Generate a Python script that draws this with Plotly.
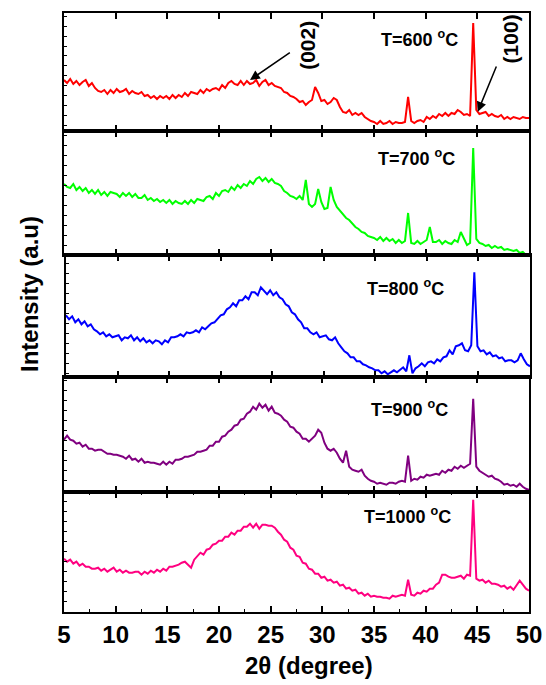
import plotly.graph_objects as go
from plotly.subplots import make_subplots

# 2-theta grid (degrees), 0.3 degree steps from 5 to 50
TWO_THETA = [round(5 + 0.3 * i, 1) for i in range(151)]

# Intensities (a.u.)
I_600 = [46, 43, 47, 42, 45, 41, 44, 46, 40, 43,
         38, 35, 34, 36, 32, 36, 33, 37, 34, 35,
         37, 32, 35, 33, 32, 34, 30, 31, 28, 30,
         27, 30, 28, 30, 27, 31, 28, 31, 29, 33,
         30, 34, 33, 32, 36, 33, 37, 35, 37, 38,
         36, 41, 38, 43, 45, 42, 41, 45, 41, 45,
         42, 43, 46, 40, 44, 46, 41, 43, 40, 39,
         38, 34, 33, 30, 29, 27, 24, 25, 21, 24,
         26, 39, 33, 25, 26, 22, 24, 28, 26, 19,
         14, 13, 16, 11, 13, 11, 13, 9, 7, 5,
         4, 2, 5, 2, 3, 5, 2, 4, 3, 3,
         4, 29, 5, 3, 5, 6, 4, 9, 7, 10,
         8, 12, 10, 13, 10, 13, 12, 16, 14, 11,
         12, 10, 103, 16, 12, 13, 14, 10, 12, 10,
         9, 11, 7, 9, 7, 9, 8, 7, 9, 8, 8]

I_700 = [72, 69, 68, 72, 66, 69, 65, 68, 63, 66,
         62, 66, 61, 64, 60, 64, 63, 62, 59, 63,
         60, 63, 59, 62, 58, 58, 61, 56, 58, 55,
         57, 54, 56, 53, 56, 52, 55, 53, 52, 55,
         52, 56, 53, 57, 56, 55, 59, 60, 57, 63,
         60, 65, 66, 64, 69, 66, 71, 68, 72, 70,
         75, 72, 77, 79, 75, 78, 74, 77, 73, 72,
         70, 65, 63, 60, 59, 57, 60, 56, 76, 52,
         49, 52, 67, 54, 47, 48, 69, 56, 49, 45,
         42, 38, 36, 32, 29, 27, 24, 23, 20, 19,
         18, 16, 19, 15, 18, 15, 17, 13, 16, 13,
         15, 43, 13, 12, 15, 12, 14, 16, 29, 14,
         14, 16, 12, 15, 13, 12, 16, 14, 24, 18,
         11, 13, 108, 17, 13, 12, 10, 11, 8, 10,
         8, 9, 6, 7, 6, 5, 6, 3, 4, 1, 0]

I_800 = [58, 54, 57, 51, 54, 49, 52, 47, 49, 44,
         42, 39, 41, 37, 39, 36, 37, 38, 33, 36,
         35, 38, 33, 36, 32, 35, 31, 33, 30, 33,
         32, 29, 33, 31, 36, 36, 37, 39, 37, 41,
         40, 41, 43, 41, 46, 44, 47, 50, 51, 54,
         58, 59, 64, 66, 70, 67, 73, 73, 77, 74,
         81, 81, 78, 86, 82, 79, 83, 78, 81, 76,
         74, 69, 67, 61, 59, 54, 51, 45, 45, 41,
         39, 41, 36, 37, 38, 34, 33, 36, 30, 26,
         22, 20, 16, 16, 12, 12, 9, 8, 6, 5,
         3, 3, 0, 2, -1, 1, 3, 1, 4, 6,
         2, 18, 0, 5, 7, 10, 7, 11, 12, 10,
         14, 12, 16, 17, 23, 19, 27, 28, 30, 23,
         22, 28, 101, 27, 22, 23, 19, 21, 17, 18,
         15, 16, 12, 13, 13, 11, 13, 20, 14, 9, 7]

I_900 = [51, 55, 51, 50, 47, 48, 44, 46, 42, 42,
         40, 41, 41, 39, 37, 37, 36, 36, 35, 34,
         32, 35, 31, 32, 29, 32, 28, 29, 28, 28,
         27, 26, 29, 26, 29, 27, 31, 31, 32, 34,
         34, 35, 36, 39, 39, 40, 41, 45, 45, 49,
         49, 54, 55, 59, 61, 65, 66, 71, 72, 77,
         79, 84, 81, 87, 83, 86, 80, 84, 78, 77,
         75, 71, 69, 64, 63, 59, 57, 52, 52, 49,
         52, 55, 61, 58, 48, 42, 40, 42, 38, 32,
         28, 40, 24, 21, 20, 19, 21, 15, 12, 10,
         9, 7, 8, 7, 6, 8, 8, 7, 9, 10,
         9, 35, 10, 12, 11, 14, 13, 16, 15, 16,
         17, 16, 20, 18, 21, 20, 24, 22, 25, 23,
         25, 27, 92, 24, 20, 18, 16, 14, 15, 12,
         11, 9, 6, 7, 5, 6, 4, 7, 4, 2, 1]

I_1000 = [53, 50, 52, 48, 50, 46, 48, 45, 45, 43,
          43, 44, 41, 43, 40, 42, 44, 40, 42, 39,
          41, 39, 39, 40, 40, 37, 40, 38, 41, 39,
          42, 40, 43, 41, 45, 45, 46, 47, 49, 50,
          47, 44, 52, 56, 59, 57, 62, 63, 67, 68,
          71, 71, 75, 75, 79, 77, 81, 81, 85, 85,
          88, 84, 88, 83, 87, 87, 86, 86, 84, 80,
          77, 72, 70, 64, 62, 56, 55, 49, 48, 43,
          42, 38, 38, 34, 35, 31, 32, 29, 30, 26,
          27, 23, 24, 21, 22, 18, 19, 16, 18, 15,
          16, 15, 15, 14, 14, 13, 16, 15, 16, 17,
          16, 32, 17, 16, 19, 18, 21, 20, 23, 23,
          27, 29, 37, 37, 35, 34, 34, 35, 36, 33,
          37, 36, 112, 33, 31, 32, 29, 31, 28, 28,
          27, 25, 26, 23, 25, 22, 26, 31, 27, 23, 21]

SERIES = [I_600, I_700, I_800, I_900, I_1000]
LABELS = ["T=600 <sup>o</sup>C", "T=700 <sup>o</sup>C", "T=800 <sup>o</sup>C",
          "T=900 <sup>o</sup>C", "T=1000 <sup>o</sup>C"]
COLORS = ["#FF0000", "#00FF00", "#0000FF", "#800080", "#FF0080"]
Y_RANGES = [[-5.5, 113], [0.5, 124.5], [-3.4, 117.8], [-1.3, 114], [-0.3, 119.7]]
LABEL_POS = [(39.45, 88), (39.1, 98), (37.9, 85.3), (38.4, 82.7), (38.2, 96.7)]
Y_DOMAINS = [[0.8022, 1.0], [0.5952, 0.8022], [0.3928, 0.5952], [0.2003, 0.3928], [0.0, 0.2003]]
X_TICKS = [5, 10, 15, 20, 25, 30, 35, 40, 45, 50]

FONT = "Liberation Sans, Arial, sans-serif"

fig = make_subplots(rows=5, cols=1, vertical_spacing=0)

for k, (ys, col) in enumerate(zip(SERIES, COLORS)):
    fig.add_trace(go.Scatter(x=TWO_THETA, y=ys, mode="lines",
                             line=dict(color=col, width=2), showlegend=False),
                  row=k + 1, col=1)

for k in range(5):
    n = "" if k == 0 else str(k + 1)
    last = (k == 4)
    xdom = [2 / 466, 1.0] if k == 2 else [0.0, 465 / 466]
    xa = dict(range=[5, 50], domain=xdom, tickmode="array", tickvals=X_TICKS,
              ticktext=[str(v) for v in X_TICKS], automargin=False,
              showline=True, linecolor="black", linewidth=2, mirror="ticks",
              ticks="inside", ticklen=6, tickwidth=1.5, tickcolor="black",
              showgrid=False, zeroline=False, showticklabels=last,
              tickfont=dict(family=FONT, size=24, color="black", weight="bold"))
    if last:
        xa["minor"] = dict(tickvals=[7.5, 12.5, 17.5, 22.5, 27.5, 32.5, 37.5, 42.5, 47.5],
                           ticks="inside", ticklen=3, tickwidth=1.2, tickcolor="black")
    ya = dict(range=Y_RANGES[k], domain=Y_DOMAINS[k], showline=True, linecolor="black",
              linewidth=2, mirror=True, ticks="inside", ticklen=3, tickwidth=1,
              tickcolor="black", dtick=10, showgrid=False, zeroline=False,
              showticklabels=False, automargin=False)
    fig.layout["xaxis" + n].update(xa)
    fig.layout["yaxis" + n].update(ya)

annotations = []
for k in range(5):
    n = "" if k == 0 else str(k + 1)
    x0, y0 = LABEL_POS[k]
    annotations.append(dict(x=x0, y=y0, xref="x" + n, yref="y" + n, text=LABELS[k],
                            showarrow=False, xanchor="center", yanchor="middle",
                            font=dict(family=FONT, size=18, color="black", weight="bold")))

# Miller indices labels and arrows (panel 1)
annotations.append(dict(x=28.5, y=81, xref="x", yref="y", text="(002)", textangle=-90,
                        showarrow=False, xanchor="center", yanchor="middle",
                        font=dict(family=FONT, size=21, color="black", weight="bold")))
annotations.append(dict(x=48.2, y=87, xref="x", yref="y", text="(100)", textangle=-90,
                        showarrow=False, xanchor="center", yanchor="middle",
                        font=dict(family=FONT, size=21, color="black", weight="bold")))
annotations.append(dict(x=23.0, y=46, xref="x", yref="y", ax=27.0, ay=74.3,
                        axref="x", ayref="y", text="", showarrow=True,
                        arrowhead=2, arrowsize=1.3, arrowwidth=1.5, arrowcolor="black"))
annotations.append(dict(x=45.04, y=14.3, xref="x", yref="y", ax=46.9, ay=61,
                        axref="x", ayref="y", text="", showarrow=True,
                        arrowhead=2, arrowsize=1.3, arrowwidth=1.5, arrowcolor="black"))

# Axis titles
annotations.append(dict(x=(309 - 64) / 466, y=-(665 - 612) / 599, xref="paper", yref="paper",
                        text="2θ (degree)", showarrow=False, xanchor="center", yanchor="middle",
                        font=dict(family=FONT, size=24, color="black", weight="bold")))
annotations.append(dict(x=(29 - 64) / 466, y=(612 - 294) / 599, xref="paper", yref="paper",
                        text="Intensity (a.u)", textangle=-90, showarrow=False,
                        xanchor="center", yanchor="middle",
                        font=dict(family=FONT, size=24, color="black", weight="bold")))

fig.update_layout(width=546, height=685,
                  margin=dict(l=64, r=16, t=13, b=73, autoexpand=False),
                  paper_bgcolor="white", plot_bgcolor="white",
                  annotations=annotations, showlegend=False,
                  font=dict(family=FONT, color="black"))

fig.write_html("out.html", config={"displayModeBar": False},
               post_script="document.body.style.margin='0';document.body.style.padding='0';")
